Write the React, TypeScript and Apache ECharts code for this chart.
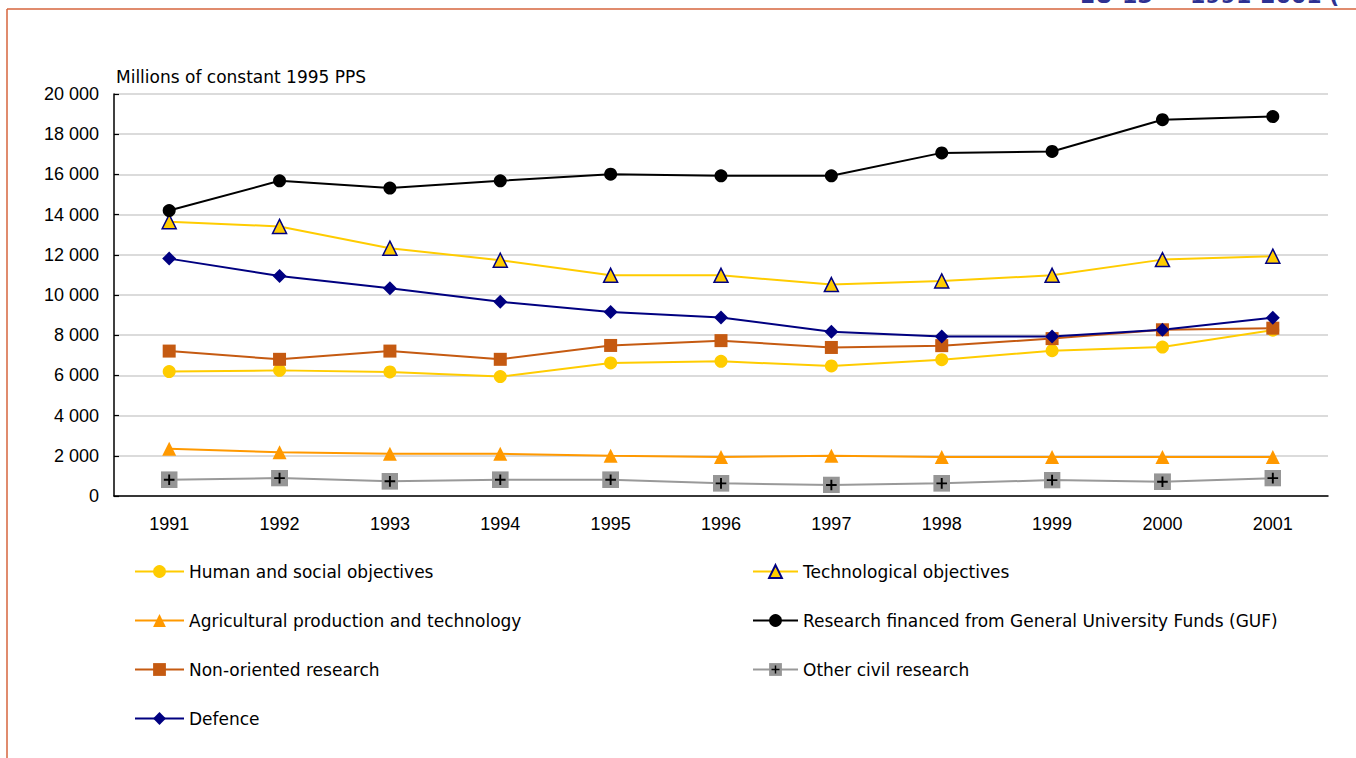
import React, { useEffect, useRef } from "react";
import * as echarts from "echarts";

// Government R&D appropriations by objective, millions of constant 1995 PPS
const years = ["1991", "1992", "1993", "1994", "1995", "1996", "1997", "1998", "1999", "2000", "2001"];
const humanSocial = [6190, 6250, 6170, 5940, 6620, 6700, 6470, 6780, 7230, 7410, 8250];
const technological = [13650, 13410, 12330, 11730, 10980, 10980, 10520, 10700, 10980, 11760, 11930];
const agricultural = [2350, 2180, 2100, 2100, 2000, 1940, 2000, 1940, 1940, 1940, 1940];
const guf = [14200, 15680, 15320, 15680, 16010, 15930, 15930, 17070, 17140, 18720, 18880];
const nonOriented = [7210, 6800, 7210, 6800, 7490, 7730, 7390, 7480, 7830, 8270, 8350];
const otherCivil = [810, 890, 730, 810, 810, 630, 550, 630, 790, 710, 890];
const defence = [11810, 10950, 10340, 9660, 9150, 8880, 8170, 7940, 7940, 8270, 8870];

const seriesNames = [
  "Human and social objectives",
  "Technological objectives",
  "Agricultural production and technology",
  "Research financed from General University Funds (GUF)",
  "Non-oriented research",
  "Other civil research",
  "Defence",
];

const headerText = "EU-15 — 1991-2001 (";

// Grey square with a black cross, used as the marker of "Other civil research"
const crossSquareSvg =
  "<svg xmlns='http://www.w3.org/2000/svg' width='16' height='16' viewBox='0 0 16 16'>" +
  "<rect width='16' height='16' fill='#969696'/>" +
  "<path d='M8 3v10M3 8h10' stroke='#000' stroke-width='1.8'/></svg>";
const crossSquareSymbol = "image://data:image/svg+xml;charset=utf-8," + encodeURIComponent(crossSquareSvg);

const fmtThousands = (v: number) => String(v).replace(/\B(?=(\d{3})+(?!\d))/g, " ");

export default function App() {
  const ref = useRef<HTMLDivElement>(null);

  useEffect(() => {
    if (!ref.current) return;
    const chart = echarts.init(ref.current, null, { renderer: "svg" });

    const line = (
      name: string,
      data: number[],
      color: string,
      symbol: string,
      symbolSize: number,
      itemStyle?: any
    ) => ({
      name,
      type: "line",
      data,
      symbol,
      symbolSize,
      showSymbol: true,
      lineStyle: { color, width: 2 },
      itemStyle: itemStyle || { color, borderWidth: 0 },
      emphasis: { disabled: true },
    });

    const legendText = { fontFamily: "DejaVu Sans", fontSize: 17, color: "#000" };

    chart.setOption({
      animation: false,
      backgroundColor: "#fff",
      grid: { left: 114, right: 28, top: 94, bottom: 262, containLabel: false },
      xAxis: {
        type: "category",
        data: years,
        boundaryGap: true,
        axisLine: { lineStyle: { color: "#000", width: 1.5 } },
        axisTick: { inside: true, length: 5, alignWithLabel: false, lineStyle: { color: "#000", width: 1.2 } },
        axisLabel: { fontFamily: "Liberation Sans", fontSize: 18, color: "#000", margin: 19 },
        splitLine: { show: false },
      },
      yAxis: {
        type: "value",
        min: 0,
        max: 20000,
        interval: 2000,
        name: "Millions of constant 1995 PPS",
        nameLocation: "end",
        nameGap: 9,
        nameTextStyle: { fontFamily: "DejaVu Sans", fontSize: 17, color: "#000", align: "left", padding: [0, 0, 0, 2] },
        axisLine: { show: true, lineStyle: { color: "#000", width: 1.5 } },
        axisTick: { show: true, inside: true, length: 5, lineStyle: { color: "#000", width: 1.2 } },
        axisLabel: {
          fontFamily: "Liberation Sans",
          fontSize: 18,
          color: "#000",
          margin: 15,
          formatter: (v: number) => fmtThousands(v),
        },
        splitLine: { show: true, lineStyle: { color: "#cfcfcf", width: 1.5 } },
      },
      legend: [
        {
          data: [seriesNames[0], seriesNames[2], seriesNames[4], seriesNames[6]],
          orient: "vertical",
          left: 129,
          top: 558,
          itemWidth: 49,
          itemHeight: 16,
          itemGap: 32,
          textStyle: legendText,
          selectedMode: false,
        },
        {
          data: [seriesNames[1], seriesNames[3], seriesNames[5]],
          orient: "vertical",
          left: 747,
          top: 558,
          itemWidth: 45,
          itemHeight: 16,
          itemGap: 32,
          textStyle: legendText,
          selectedMode: false,
        },
      ],
      series: [
        line(seriesNames[0], humanSocial, "#FFCC00", "circle", 13),
        line(seriesNames[1], technological, "#FFCC00", "triangle", 14, {
          color: "#FFCC00",
          borderColor: "#000080",
          borderWidth: 1.5,
        }),
        line(seriesNames[2], agricultural, "#FF9900", "triangle", 14),
        line(seriesNames[3], guf, "#000000", "circle", 13),
        line(seriesNames[4], nonOriented, "#C55A11", "rect", 13),
        line(seriesNames[5], otherCivil, "#999999", crossSquareSymbol, 17),
        line(seriesNames[6], defence, "#000080", "diamond", 14),
      ],
      graphic: [
        {
          type: "line",
          shape: { x1: 7, y1: 9, x2: 1356, y2: 9 },
          style: { stroke: "#D6653C", lineWidth: 1.5 },
          silent: true,
        },
        {
          type: "line",
          shape: { x1: 7, y1: 9, x2: 7, y2: 758 },
          style: { stroke: "#D6653C", lineWidth: 1.5 },
          silent: true,
        },
        {
          type: "text",
          x: 1080,
          y: 6,
          silent: true,
          style: {
            text: headerText,
            fill: "#2E3192",
            font: "bold 22px 'DejaVu Sans'",
            verticalAlign: "bottom",
            align: "left",
          },
        },
      ],
    });

    return () => chart.dispose();
  }, []);

  return (
    <div
      ref={ref}
      style={{ position: "fixed", left: 0, top: 0, width: 1356, height: 758, background: "#fff" }}
    />
  );
}
